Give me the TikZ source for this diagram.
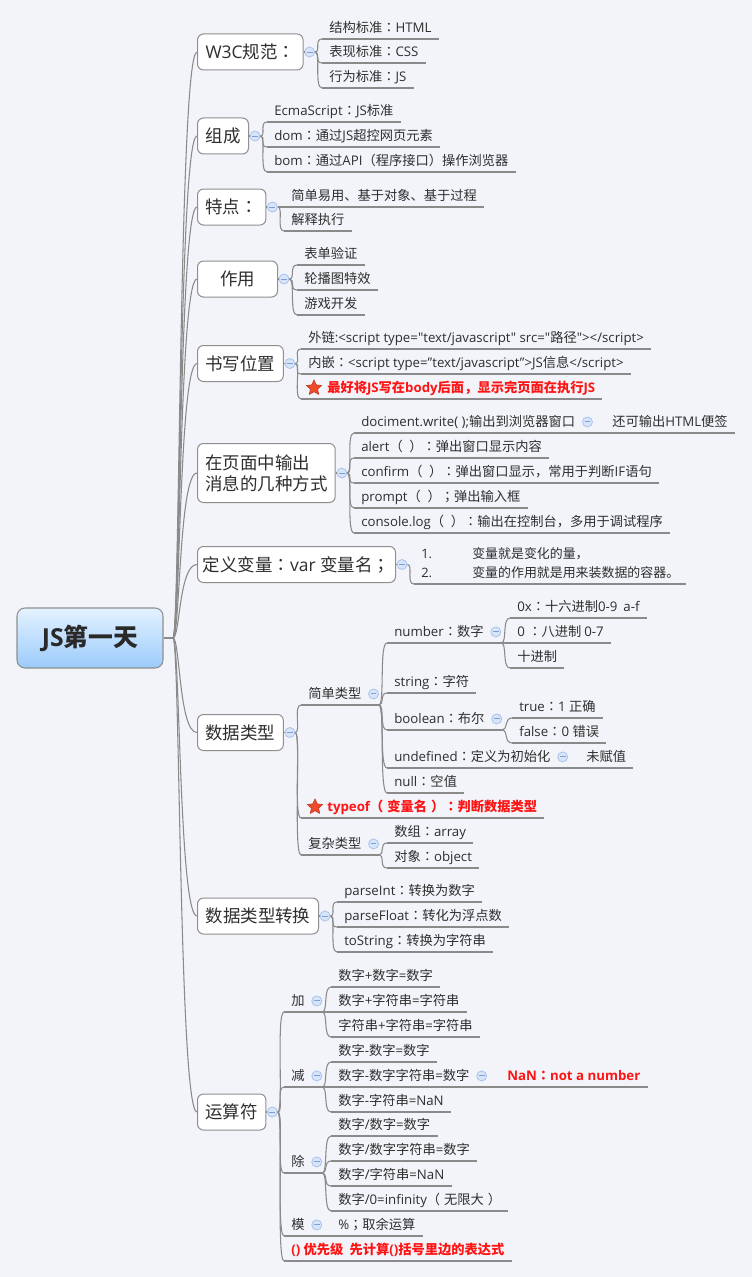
\documentclass[tikz,border=0pt]{standalone}
\usepackage{fontspec}
\setmainfont{Open Sans}
\newfontfamily\latinfont{Open Sans}
\newfontfamily\cjkfont{Noto Sans CJK SC}
\newfontfamily\cjkpfont{Noto Sans CJK JP}
\usetikzlibrary{calc,shapes.geometric}

% switch to the CJK family for Chinese characters and back for Latin text;
% fullwidth colon and semicolon come from a face that centres them
\XeTeXinterchartokenstate=1
\newXeTeXintercharclass\CJKcls
\newXeTeXintercharclass\CJKpcls
\newcount\cjkc
\def\setcjkrange#1#2{\cjkc=#1\relax
  \loop\XeTeXcharclass\cjkc=\CJKcls\relax
  \ifnum\cjkc<#2\relax\advance\cjkc by 1\relax\repeat}
\setcjkrange{"3000}{"303F}
\setcjkrange{"4E00}{"9FFF}
\setcjkrange{"FF00}{"FFEF}
\XeTeXcharclass"FF1A=\CJKpcls
\XeTeXcharclass"FF1B=\CJKpcls
\XeTeXinterchartoks 0 \CJKcls = {\cjkfont}
\XeTeXinterchartoks 4095 \CJKcls = {\cjkfont}
\XeTeXinterchartoks \CJKpcls \CJKcls = {\cjkfont}
\XeTeXinterchartoks \CJKcls 0 = {\latinfont}
\XeTeXinterchartoks \CJKpcls 0 = {\latinfont}
\XeTeXinterchartoks 4095 0 = {\latinfont}
\XeTeXinterchartoks 0 \CJKpcls = {\cjkpfont}
\XeTeXinterchartoks 4095 \CJKpcls = {\cjkpfont}
\XeTeXinterchartoks \CJKcls \CJKpcls = {\cjkpfont}

\newcommand\leafsize{\fontsize{9.94pt}{12pt}\selectfont}
\newcommand\listsize{\fontsize{9.7pt}{14.25pt}\selectfont}
\newcommand\topsize{\fontsize{13.1pt}{15.75pt}\selectfont}
\newcommand\rootsize{\fontsize{18.6pt}{22pt}\selectfont\bfseries}
\newcommand\pgap{\hspace{0.5em}}
\newcommand\igap{\hspace{0.3em}}

\definecolor{bgC}{HTML}{F2F4F9}
\definecolor{lineC}{HTML}{8A8A8A}
\definecolor{boxC}{HTML}{8F8F8F}
\definecolor{txtC}{HTML}{2E2E2E}
\definecolor{togF}{HTML}{D7E5FA}
\definecolor{togD}{HTML}{A9C2EC}
\definecolor{togM}{HTML}{7F9FD3}
\definecolor{redT}{HTML}{FF1414}
\definecolor{starF}{HTML}{EE4A2C}
\definecolor{starD}{HTML}{BF351D}
\definecolor{rootTop}{HTML}{E4F2FF}
\definecolor{rootBot}{HTML}{9BCBFB}

% connectors
\newcommand\mmBranch[2]{\draw[conn] (#1) .. controls ($(#1)+(6,0)$) and ($(#2)+(-8,0)$) .. (#2);}
\newcommand\mmTrunk[1]{\draw[conn] (hub) .. controls ($(hub)+(7,0)$) and ($(#1.west)+(-18,0)$) .. (#1.west);}
\newcommand\mmUline[1]{\draw[conn] (#1.south west) -- (#1.south east);}

\begin{document}
\begin{tikzpicture}[x=0.75pt,y=-0.75pt,
  conn/.style={draw=lineC, line width=0.8pt},
  rootbox/.style={draw=boxC, line width=0.8pt, rounded corners=6pt,
    top color=rootTop, bottom color=rootBot, minimum width=109.5pt,
    minimum height=45pt, font=\rootsize, text=txtC!90!black},
  topbox/.style={draw=boxC, line width=0.75pt, fill=white, rounded corners=4.5pt,
    anchor=west, font=\topsize, text=txtC, inner xsep=6pt, minimum height=27pt,
    text height=11pt, text depth=1pt},
  tall/.style={align=left, text height=, text depth=, minimum height=44.25pt,
    inner xsep=5.8pt},
  leaf/.style={anchor=south west, font=\leafsize, text=txtC, inner xsep=5.25pt,
    inner ysep=2.5pt, text height=9pt, text depth=2.2pt},
  hot/.style={leaf, text=redT, font=\leafsize\bfseries},
  tog/.style={circle, inner sep=0pt, minimum size=7.5pt, fill=togF, draw=togD,
    line width=0.6pt, path picture={\draw[togM, line width=0.7pt]
      ([xshift=-2.2pt]path picture bounding box.center) --
      ([xshift=2.2pt]path picture bounding box.center);}},
  starmark/.style={star, star points=5, star point ratio=2.1, minimum size=12pt,
    inner sep=0pt, fill=starF, draw=starD, line width=0.4pt}]

\fill[bgC] (0,0) rectangle (752,1277);
\useasboundingbox (0,0) rectangle (752,1277);

% central topic
\node[rootbox] (root) at (90,638) {JS第一天};
\coordinate (hub) at (173,638);
\draw[conn] (root.east) -- (hub);

% main topics
\node[topbox, minimum width=78pt]     (b1)  at (197,52)    {W3C规范：};
\node[topbox, minimum width=38.25pt]  (b2)  at (197,136)   {组成};
\node[topbox, minimum width=49.5pt]   (b3)  at (197,207)   {特点：};
\node[topbox, minimum width=60pt]     (b4)  at (197,279)   {作用};
\node[topbox, minimum width=63pt]     (b5)  at (197,363.5) {书写位置};
\node[topbox, tall]                   (b6)  at (197,473)   {在页面中输出\\消息的几种方式};
\node[topbox, minimum width=147.75pt, inner xsep=4pt] (b7) at (197,564.5) {定义变量：var 变量名；};
\node[topbox, minimum width=63.75pt]  (b8)  at (197,732.5) {数据类型};
\node[topbox, minimum width=90.75pt]  (b9)  at (197,916)   {数据类型转换};
\node[topbox, minimum width=50.25pt]  (b10) at (197,1112)  {运算符};

\foreach \i in {1,...,10} {
  \mmTrunk{b\i}
  \node[tog] (t\i) at ($(b\i.east)+(6,0)$) {};
  \draw[conn] (b\i.east) -- (t\i.west);
}

% W3C
\node[leaf] (l11) at (322,39) {结构标准：HTML};
\node[leaf] (l12) at (322,63) {表现标准：CSS};
\node[leaf] (l13) at (322,88) {行为标准：JS};
% 组成
\node[leaf] (l21) at (267,122) {EcmaScript：JS标准};
\node[leaf] (l22) at (267,147) {dom：通过JS超控网页元素};
\node[leaf] (l23) at (267,172) {bom：通过API（程序接口）操作浏览器};
% 特点
\node[leaf] (l31) at (284,207) {简单易用、基于对象、基于过程};
\node[leaf] (l32) at (284,231) {解释执行};
% 作用
\node[leaf] (l41) at (297,265) {表单验证};
\node[leaf] (l42) at (297,290) {轮播图特效};
\node[leaf] (l43) at (297,315) {游戏开发};
% 书写位置
\node[leaf] (l51) at (301,349) {外链:<script type="text/javascript" src="路径"></script>};
\node[leaf] (l52) at (301,374) {内嵌：<script type=”text/javascript”>JS信息</script>};
\node[hot]  (l53) at (301,399) {\hspace{14.25pt}最好将JS写在body后面，显示完页面在执行JS};
\node[starmark] (s53) at ($(l53.west)+(13,0)$) {};
% 输出方式
\node[leaf] (l61) at (354,433) {dociment.write( );输出到浏览器窗口};
\node[leaf] (l611) at (605,433) {还可输出HTML便签};
\node[leaf] (l62) at (354,458) {alert（\pgap）：弹出窗口显示内容};
\node[leaf] (l63) at (354,483) {confirm（\pgap）：弹出窗口显示，常用于判断IF语句};
\node[leaf] (l64) at (354,508) {prompt（\pgap）；弹出输入框};
\node[leaf] (l65) at (354,533) {console.log（\pgap）：输出在控制台，多用于调试程序};
% 定义变量
\node[leaf, font=\listsize, align=left, text height=] (l71) at (414,584)
  {\makebox[38.25pt][l]{1.}变量就是变化的量，\\\makebox[38.25pt][l]{2.}变量的作用就是用来装数据的容器。};
% 数据类型
\node[leaf] (l81) at (301,705) {简单类型};
\node[leaf] (l811) at (387,643) {number：数字};
\node[leaf] (l8111) at (510,618) {0x：十六进制0-9\hspace{0.45em}a-f};
\node[leaf] (l8112) at (510,643) {0 ：八进制 0-7};
\node[leaf] (l8113) at (510,668) {十进制};
\node[leaf] (l812) at (387,693) {string：字符};
\node[leaf] (l813) at (387,730) {boolean：布尔};
\node[leaf] (l8131) at (512,718) {true：1 正确};
\node[leaf] (l8132) at (512,743) {false：0 错误};
\node[leaf] (l814) at (387,768) {undefined：定义为初始化};
\node[leaf] (l8141) at (579,768) {未赋值};
\node[leaf] (l815) at (387,793) {null：空值};
\node[hot]  (l82) at (301,818) {\hspace{14.25pt}typeof（\igap 变量名\igap）：判断数据类型};
\node[starmark] (s82) at ($(l82.west)+(14,0)$) {};
\node[leaf] (l83) at (301,855) {复杂类型};
\node[leaf] (l831) at (387,843) {数组：array};
\node[leaf] (l832) at (387,868) {对象：object};
% 数据类型转换
\node[leaf] (l91) at (337,902) {parseInt：转换为数字};
\node[leaf] (l92) at (337,927) {parseFloat：转化为浮点数};
\node[leaf] (l93) at (337,952) {toString：转换为字符串};
% 运算符
\node[leaf] (la1) at (284,1012) {加};
\node[leaf] (la11) at (331,987) {数字+数字=数字};
\node[leaf] (la12) at (331,1012) {数字+字符串=字符串};
\node[leaf] (la13) at (331,1037) {字符串+字符串=字符串};
\node[leaf] (la2) at (284,1087) {减};
\node[leaf] (la21) at (331,1062) {数字-数字=数字};
\node[leaf] (la22) at (331,1087) {数字-数字字符串=数字};
\node[hot]  (la221) at (500,1087) {NaN：not a number};
\node[leaf] (la23) at (331,1112) {数字-字符串=NaN};
\node[leaf] (la3) at (284,1173) {除};
\node[leaf] (la31) at (331,1136) {数字/数字=数字};
\node[leaf] (la32) at (331,1161) {数字/数字字符串=数字};
\node[leaf] (la33) at (331,1186) {数字/字符串=NaN};
\node[leaf] (la34) at (331,1211) {数字/0=infinity（\igap 无限大\igap）};
\node[leaf] (la4) at (284,1236) {模};
\node[leaf] (la41) at (331,1236) {\%；取余运算};
\node[hot]  (la5) at (284,1261) {() 优先级\ \ 先计算()括号里边的表达式};

% underlines
\foreach \n in {l11,l12,l13,l21,l22,l23,l31,l32,l41,l42,l43,l51,l52,l53,
  l61,l611,l62,l63,l64,l65,l71,l81,l811,l8111,l8112,l8113,l812,l813,l8131,l8132,
  l814,l8141,l815,l82,l83,l831,l832,l91,l92,l93,
  la1,la11,la12,la13,la2,la21,la22,la221,la23,la3,la31,la32,la33,la34,la4,la41,la5}
  {\mmUline{\n}}

% toggles on sub-topics
\foreach \n in {l61,l81,l811,l813,l814,l83,la1,la2,la22,la3,la4} {
  \node[tog] (t\n) at ($(\n.east)+(5,0)$) {};
  \coordinate (e\n) at (t\n.east |- \n.south);
}
\draw[conn] (l81.south east) -- (el81);
\draw[conn] (l811.south east) -- (el811);
\draw[conn] (l813.south east) -- (el813);
\draw[conn] (l83.south east) -- (el83);
\draw[conn] (la1.south east) -- (ela1);
\draw[conn] (la2.south east) -- (ela2);
\draw[conn] (la3.south east) -- (ela3);
\draw[conn] (l61.south east) -- (l611.south west);
\draw[conn] (l814.south east) -- (l8141.south west);
\draw[conn] (la22.south east) -- (la221.south west);
\draw[conn] (la4.south east) -- (la41.south west);

% branches
\foreach \n in {l11,l12,l13} {\mmBranch{t1.east}{\n.south west}}
\foreach \n in {l21,l22,l23} {\mmBranch{t2.east}{\n.south west}}
\foreach \n in {l31,l32} {\mmBranch{t3.east}{\n.south west}}
\foreach \n in {l41,l42,l43} {\mmBranch{t4.east}{\n.south west}}
\foreach \n in {l51,l52,l53} {\mmBranch{t5.east}{\n.south west}}
\foreach \n in {l61,l62,l63,l64,l65} {\mmBranch{t6.east}{\n.south west}}
\mmBranch{t7.east}{l71.south west}
\foreach \n in {l81,l82,l83} {\mmBranch{t8.east}{\n.south west}}
\foreach \n in {l811,l812,l813,l814,l815} {\mmBranch{el81}{\n.south west}}
\foreach \n in {l8111,l8112,l8113} {\mmBranch{el811}{\n.south west}}
\foreach \n in {l8131,l8132} {\mmBranch{el813}{\n.south west}}
\foreach \n in {l831,l832} {\mmBranch{el83}{\n.south west}}
\foreach \n in {l91,l92,l93} {\mmBranch{t9.east}{\n.south west}}
\foreach \n in {la1,la2,la3,la4,la5} {\mmBranch{t10.east}{\n.south west}}
\foreach \n in {la11,la12,la13} {\mmBranch{ela1}{\n.south west}}
\foreach \n in {la21,la22,la23} {\mmBranch{ela2}{\n.south west}}
\foreach \n in {la31,la32,la33,la34} {\mmBranch{ela3}{\n.south west}}

\end{tikzpicture}
\end{document}
